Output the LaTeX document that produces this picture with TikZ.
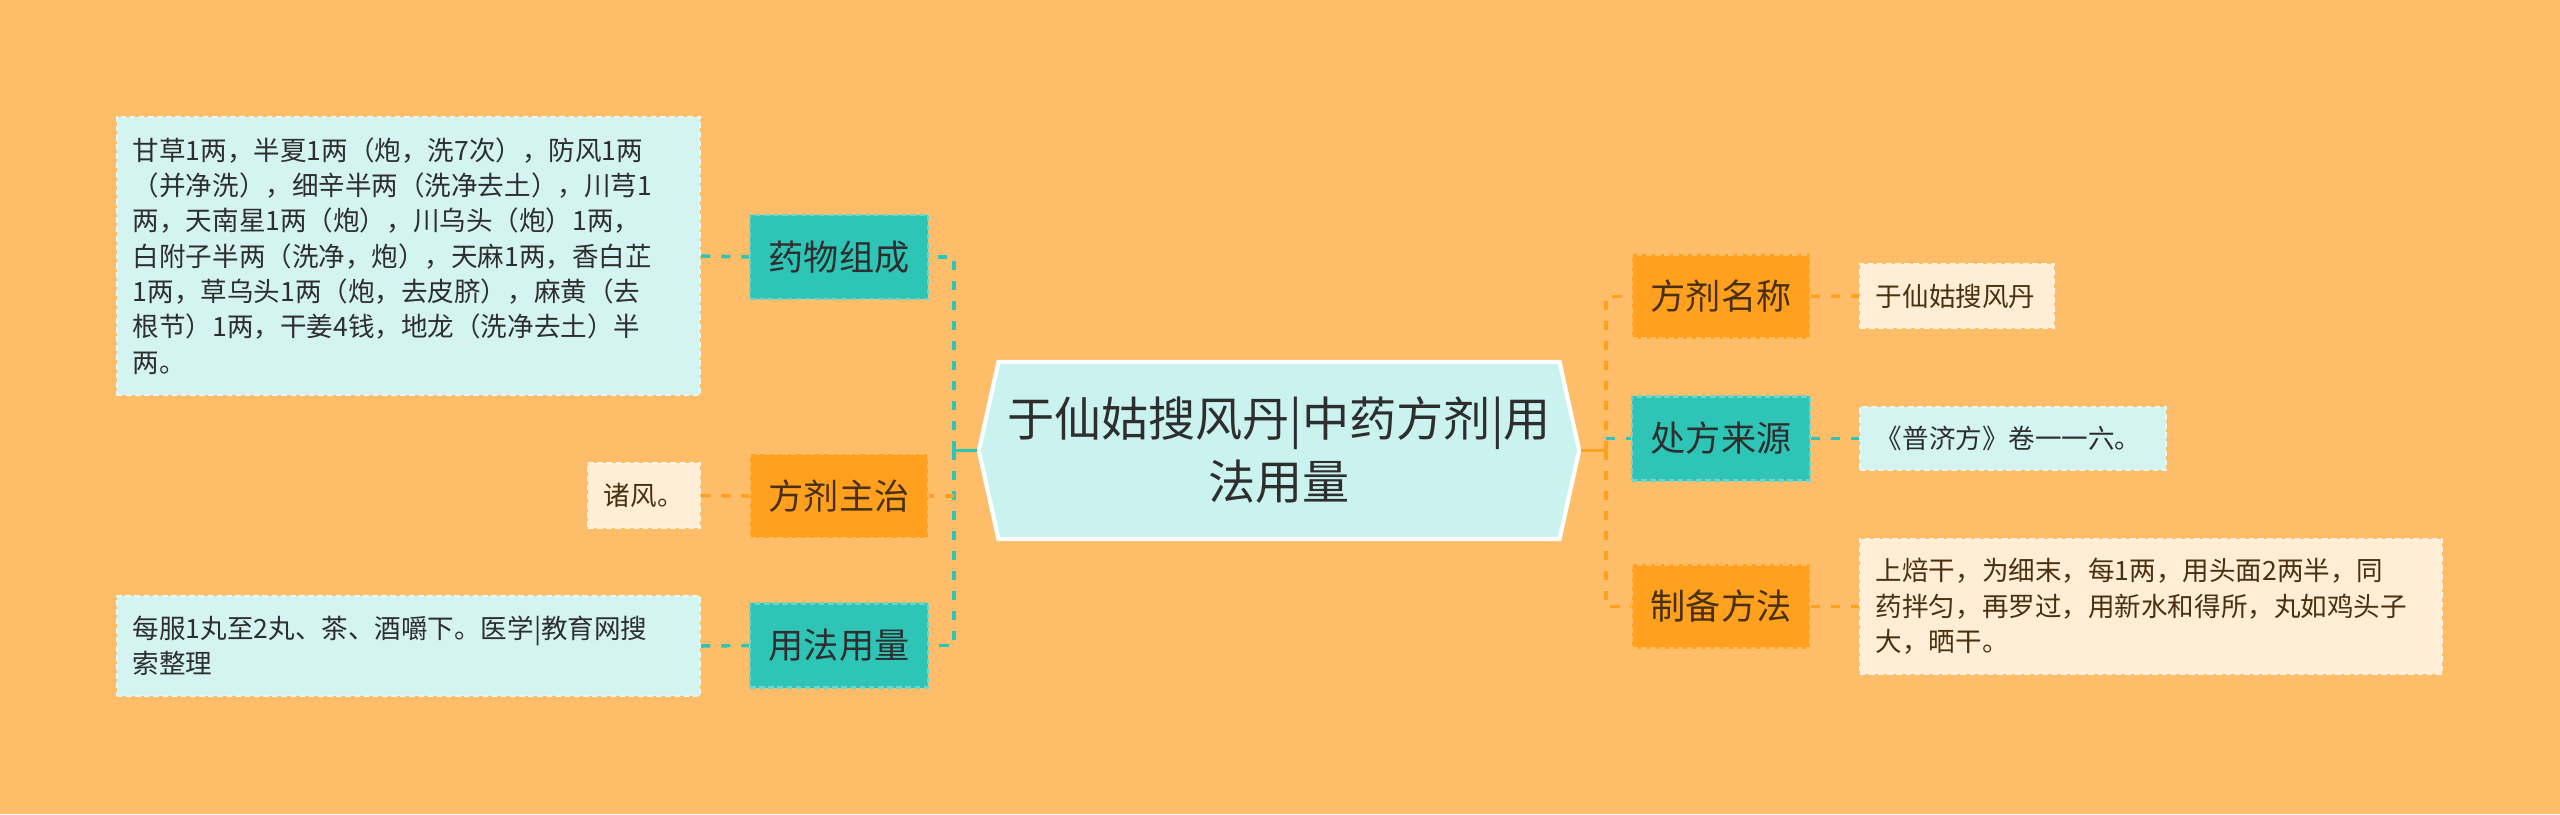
\documentclass[tikz,border=0pt]{standalone}
\usepackage{fontspec}
\setmainfont{Noto Sans CJK SC}
\usepackage{xcolor}
\usepackage{tikz}
\usetikzlibrary{shapes.symbols}

\definecolor{bgorange}{HTML}{FEBD69}
\definecolor{tealbox}{HTML}{2EC4B6}
\definecolor{orangebox}{HTML}{FFA11F}
\definecolor{cyanbox}{HTML}{D4F4F1}
\definecolor{creambox}{HTML}{FFEDD5}
\definecolor{topicfill}{HTML}{CAF2EF}
\definecolor{darktext}{HTML}{2E2E2E}
\definecolor{browntext}{HTML}{4A3010}

\begin{document}
\begin{tikzpicture}[x=0.01cm,y=0.01cm,
		box/.style={rectangle, inner sep=0pt, line width=0.6pt, dash pattern=on 1.6pt off 1pt},
		branchteal/.style={box, fill=tealbox, draw=tealbox!70!white, text=darktext,
			minimum width=1.78cm, minimum height=0.84cm, font=\fontsize{10}{12}\selectfont},
		branchorange/.style={branchteal, fill=orangebox, draw=orangebox!70!white, text=browntext},
		detailcyan/.style={box, fill=cyanbox, draw=cyanbox!60!white, text=darktext, align=left,
			inner xsep=0.16cm, font=\fontsize{7.55}{10.05}\selectfont},
		detailcream/.style={detailcyan, fill=creambox, draw=creambox!60!white, text=browntext},
		teallink/.style={draw=tealbox, line width=1pt, dash pattern=on 2.6pt off 3.1pt},
		orangelink/.style={teallink, draw=orangebox},
		tealsolid/.style={draw=tealbox, line width=1pt},
		orangesolid/.style={draw=orangebox, line width=1pt}]

		\fill[bgorange] (0,0) rectangle (2560,814);
		\useasboundingbox (0,0) rectangle (2560,814);

		% Central topic
		\node[signal, signal to=west and east, signal pointer angle=155, fill=topicfill, draw=white,
			line width=1.2pt, minimum width=6.0cm, minimum height=1.77cm, inner sep=0pt, align=center,
			text=darktext, font=\fontsize{13.4}{17.9}\selectfont] (topic) at (1279,363.5)
			{于仙姑搜风丹|中药方剂|用\\法用量};

		% Left branches
		\node[branchteal] (yaowu) at (839,557) {药物组成};
		\node[branchorange] (zhuzhi) at (839,318) {方剂主治};
		\node[branchteal] (yongfa) at (839,168.5) {用法用量};

		\node[detailcyan, text width=5.51cm, minimum height=2.78cm] (yaowuText) at (408.5,558)
			{甘草1两，半夏1两（炮，洗7次），防风1两\\（并净洗），细辛半两（洗净去土），川芎1\\两，天南星1两（炮），川乌头（炮）1两，\\白附子半两（洗净，炮），天麻1两，香白芷\\1两，草乌头1两（炮，去皮脐），麻黄（去\\根节）1两，干姜4钱，地龙（洗净去土）半\\两。};
		\node[detailcream, text width=0.80cm, minimum height=0.65cm] (zhuzhiText) at (644,318.5) {诸风。};
		\node[detailcyan, text width=5.51cm, minimum height=1.00cm] (yongfaText) at (408.5,168)
			{每服1丸至2丸、茶、酒嚼下。医学|教育网搜\\索整理};

		% Right branches
		\node[branchorange] (mingcheng) at (1721,517.5) {方剂名称};
		\node[branchteal] (laiyuan) at (1721,375.5) {处方来源};
		\node[branchorange] (zhibei) at (1721,207.5) {制备方法};

		\node[detailcream, text width=1.62cm, minimum height=0.64cm] (mingchengText) at (1957,518) {于仙姑搜风丹};
		\node[detailcyan, text width=2.74cm, minimum height=0.63cm] (laiyuanText) at (2013,375.5) {《普济方》卷一一六。};
		\node[detailcream, text width=5.50cm, minimum height=1.35cm] (zhibeiText) at (2151,207.5)
			{上焙干，为细末，每1两，用头面2两半，同\\药拌匀，再罗过，用新水和得所，丸如鸡头子\\大，晒干。};

		% Spines
		\coordinate (lhub) at (954,363.5);
		\coordinate (rhub) at (1606,363.5);
		\draw[tealsolid] (topic.west) -- (lhub);
		\draw[tealsolid] ([yshift=-0.08cm]lhub) -- ([yshift=0.08cm]lhub);
		\draw[orangesolid] (topic.east) -- (rhub);
		\draw[orangesolid] ([yshift=-0.08cm]rhub) -- ([yshift=0.08cm]rhub);

		\draw[teallink] (lhub) |- (yaowu.east);
		\draw[teallink] (lhub) |- (yongfa.east);
		\draw[orangelink] (zhuzhi.east -| lhub) -- (zhuzhi.east);
		\draw[orangelink] (rhub) |- (mingcheng.west);
		\draw[orangelink] (rhub) |- (zhibei.west);
		\draw[teallink] (laiyuan.west -| rhub) -- (laiyuan.west);

		% Details
		\draw[teallink] (yaowuText.east) -- (yaowu.west);
		\draw[orangelink] (zhuzhiText.east) -- (zhuzhi.west);
		\draw[teallink] (yongfaText.east) -- (yongfa.west);
		\draw[orangelink] (mingcheng.east) -- (mingchengText.west);
		\draw[teallink] (laiyuan.east) -- (laiyuanText.west);
		\draw[orangelink] (zhibei.east) -- (zhibeiText.west);
	\end{tikzpicture}
\end{document}
